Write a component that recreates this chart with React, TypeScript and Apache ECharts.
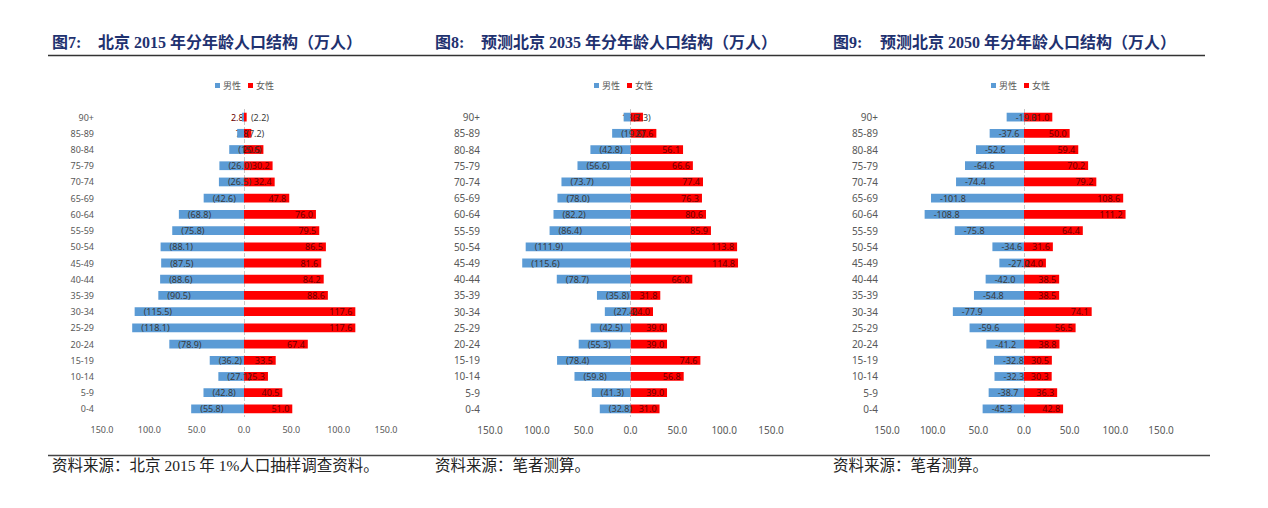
import React, { useEffect, useRef } from "react";
import * as echarts from "echarts";

const ageGroups = ["90+", "85-89", "80-84", "75-79", "70-74", "65-69", "60-64", "55-59", "50-54", "45-49", "40-44", "35-39", "30-34", "25-29", "20-24", "15-19", "10-14", "5-9", "0-4"];

const male2015 = [2.2, 7.2, 15.6, 26.0, 26.5, 42.6, 68.8, 75.8, 88.1, 87.5, 88.6, 90.5, 115.5, 118.1, 78.9, 36.2, 27.1, 42.8, 55.8];
const female2015 = [2.8, 7.8, 20.5, 30.2, 32.4, 47.8, 76.0, 79.5, 86.5, 81.6, 84.2, 88.6, 117.6, 117.6, 67.4, 33.5, 25.3, 40.5, 51.0];

const male2035 = [7.3, 19.6, 42.8, 56.6, 73.7, 78.0, 82.2, 86.4, 111.9, 115.6, 78.7, 35.8, 27.4, 42.5, 55.3, 78.4, 59.8, 41.3, 32.8];
const female2035 = [13.3, 27.6, 56.1, 66.6, 77.4, 76.3, 80.6, 85.9, 113.8, 114.8, 66.0, 31.8, 24.0, 39.0, 39.0, 74.6, 56.8, 39.0, 31.0];

const male2050 = [19.0, 37.6, 52.6, 64.6, 74.4, 101.8, 108.8, 75.8, 34.6, 27.0, 42.0, 54.8, 77.9, 59.6, 41.2, 32.8, 32.3, 38.7, 45.3];
const female2050 = [31.0, 50.0, 59.4, 70.2, 79.2, 108.6, 111.2, 64.4, 31.6, 24.0, 38.5, 38.5, 74.1, 56.5, 38.8, 30.5, 30.3, 36.3, 42.8];

const xTicks = { min: -150, max: 150, interval: 50 };

const titleNums = ["图7:", "图8:", "图9:"];
const titleTexts = ["北京 2015 年分年龄人口结构（万人）", "预测北京 2035 年分年龄人口结构（万人）", "预测北京 2050 年分年龄人口结构（万人）"];
const sourceTexts = ["资料来源：北京 2015 年 1%人口抽样调查资料。", "资料来源：笔者测算。", "资料来源：笔者测算。"];
const legendNames = ["男性", "女性"];

const panelData = [
  { male: male2015, female: female2015, neg: "paren" },
  { male: male2035, female: female2035, neg: "paren" },
  { male: male2050, female: female2050, neg: "minus" },
];

// layout
const layout = [
  { gridLeft: 102, gridWidth: 284, titleX: 52, mainX: 98, legendX: 210, font: 9, yMargin: 8 },
  { gridLeft: 490, gridWidth: 281, titleX: 435, mainX: 481, legendX: 589, font: 10, yMargin: 10 },
  { gridLeft: 887, gridWidth: 274, titleX: 833, mainX: 880, legendX: 986, font: 10, yMargin: 9 },
];

const SANS = '"Noto Sans", "Noto Sans CJK SC", sans-serif';
const SERIF = '"Liberation Serif", "Noto Sans CJK SC", serif';
const BLUE = "#5B9BD5";
const RED = "#FF0000";

export default function App() {
  const ref = useRef<HTMLDivElement>(null);
  useEffect(() => {
    if (!ref.current) return;
    const chart = echarts.init(ref.current, null, { renderer: "svg" });

    const grids: any[] = [];
    const xAxes: any[] = [];
    const yAxes: any[] = [];
    const series: any[] = [];
    const legends: any[] = [];
    const graphics: any[] = [];

    panelData.forEach((p, i) => {
      const L = layout[i];
      grids.push({ left: L.gridLeft, width: L.gridWidth, top: 109, height: 308, containLabel: false });
      xAxes.push({
        type: "value",
        gridIndex: i,
        min: xTicks.min,
        max: xTicks.max,
        interval: xTicks.interval,
        axisLine: { show: false },
        axisTick: { show: false },
        splitLine: { show: false },
        axisLabel: {
          color: "#595959",
          fontSize: L.font,
          fontFamily: SANS,
          margin: 8,
          formatter: (v: number) => Math.abs(v).toFixed(1),
        },
      });
      yAxes.push({
        type: "category",
        gridIndex: i,
        inverse: true,
        data: ageGroups,
        axisLine: { show: false },
        axisTick: { show: false },
        splitLine: { show: false },
        axisLabel: { color: "#595959", fontSize: L.font, fontFamily: SANS, margin: L.yMargin },
      });
      series.push({
        name: legendNames[0],
        type: "bar",
        xAxisIndex: i,
        yAxisIndex: i,
        data: p.male.map((v) => -v),
        barWidth: "54%",
        barGap: "-100%",
        itemStyle: { color: BLUE },
        z: 4,
        label: {
          show: true,
          position: "insideLeft",
          distance: 9,
          color: "#3a3a3a",
          fontSize: 9,
          fontFamily: SANS,
          formatter: (d: any) => {
            const a = Math.abs(d.value).toFixed(1);
            return p.neg === "paren" ? `(${a})` : `-${a}`;
          },
        },
        markLine: {
          silent: true,
          symbol: "none",
          label: { show: false },
          lineStyle: { color: "#c8c8c8", type: "dashed", width: 1 },
          data: [{ xAxis: 0 }],
          z: 1,
        },
      });
      series.push({
        name: legendNames[1],
        type: "bar",
        xAxisIndex: i,
        yAxisIndex: i,
        data: p.female,
        barWidth: "54%",
        barGap: "-100%",
        itemStyle: { color: RED },
        z: 3,
        label: {
          show: true,
          position: "insideRight",
          distance: 3,
          color: "#6a0000",
          fontSize: 9,
          fontFamily: SANS,
          formatter: (d: any) => Number(d.value).toFixed(1),
        },
      });
      legends.push({
        left: L.legendX,
        top: 76,
        data: legendNames,
        icon: "rect",
        itemWidth: 5,
        itemHeight: 5,
        itemGap: 7,
        selectedMode: false,
        textStyle: { color: "#595959", fontSize: 9, fontFamily: SANS, padding: [0, 0, 0, -2] },
      });
      graphics.push({
        type: "text",
        left: L.titleX,
        top: 34,
        style: { text: titleNums[i], fill: "#1f3270", font: `bold 16px ${SERIF}` },
      });
      graphics.push({
        type: "text",
        left: L.mainX,
        top: 34,
        style: { text: titleTexts[i], fill: "#1f3270", font: `bold 16px ${SERIF}` },
      });
      graphics.push({
        type: "text",
        left: L.titleX,
        top: 458,
        style: { text: sourceTexts[i], fill: "#222", font: `15.5px ${SERIF}` },
      });
    });

    graphics.push({
      type: "line",
      shape: { x1: 48, y1: 55.5, x2: 1205, y2: 55.5 },
      style: { stroke: "#333", lineWidth: 1.5 },
    });
    graphics.push({
      type: "line",
      shape: { x1: 48, y1: 455.5, x2: 1210, y2: 455.5 },
      style: { stroke: "#444", lineWidth: 1.5 },
    });

    chart.setOption({
      animation: false,
      backgroundColor: "#ffffff",
      grid: grids,
      xAxis: xAxes,
      yAxis: yAxes,
      legend: legends,
      series,
      graphic: graphics,
    });
    return () => chart.dispose();
  }, []);

  return (
    <div
      ref={ref}
      style={{ position: "fixed", left: 0, top: 0, width: 1268, height: 508, background: "#fff" }}
    />
  );
}
